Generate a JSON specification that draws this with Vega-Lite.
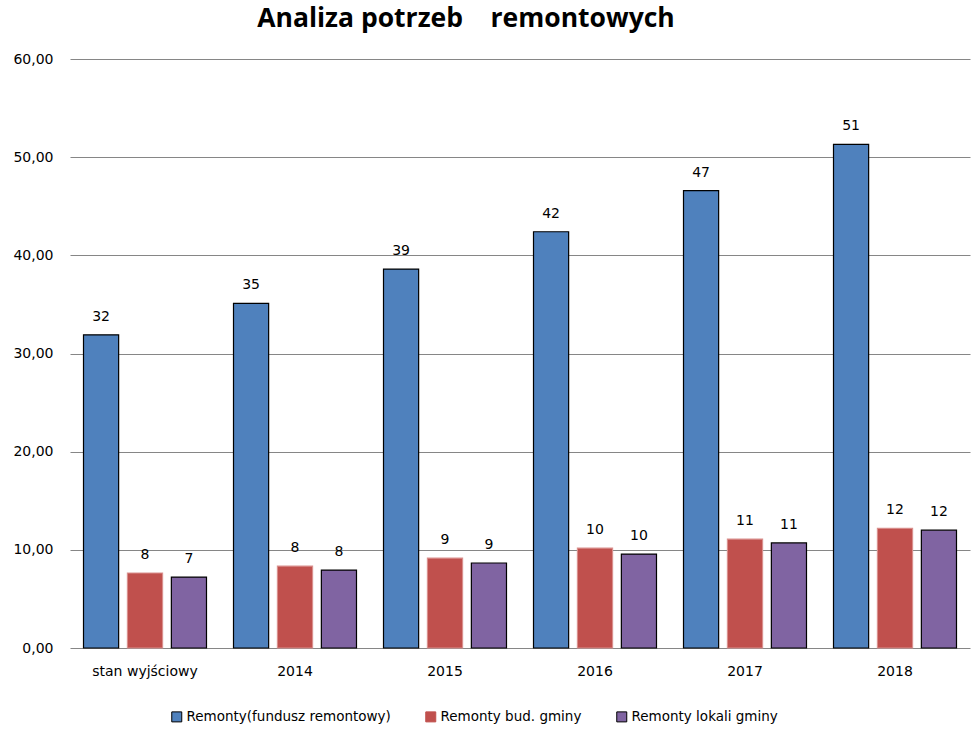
{
  "$schema": "https://vega.github.io/schema/vega-lite/v6.json",
  "width": 900,
  "height": 589,
  "autosize": "none",
  "padding": {"left": 70, "top": 59, "right": 5, "bottom": 90},
  "background": "white",
  "title": {
    "text": "Analiza potrzeb\u00a0\u00a0\u00a0\u00a0remontowych",
    "font": "Open Sans",
    "fontSize": 26.5,
    "fontWeight": "bold",
    "color": "#000000",
    "anchor": "middle",
    "dx": -54,
    "offset": 20
  },
  "config": {
    "view": {"stroke": null},
    "font": "DejaVu Sans"
  },
  "data": {
    "values": [
      {"okres": "stan wyjściowy", "seria": "Remonty(fundusz remontowy)", "wartosc": 31.9},
      {"okres": "stan wyjściowy", "seria": "Remonty bud. gminy", "wartosc": 7.64},
      {"okres": "stan wyjściowy", "seria": "Remonty lokali gminy", "wartosc": 7.23},
      {"okres": "2014", "seria": "Remonty(fundusz remontowy)", "wartosc": 35.1},
      {"okres": "2014", "seria": "Remonty bud. gminy", "wartosc": 8.35},
      {"okres": "2014", "seria": "Remonty lokali gminy", "wartosc": 7.94},
      {"okres": "2015", "seria": "Remonty(fundusz remontowy)", "wartosc": 38.6},
      {"okres": "2015", "seria": "Remonty bud. gminy", "wartosc": 9.16},
      {"okres": "2015", "seria": "Remonty lokali gminy", "wartosc": 8.66},
      {"okres": "2016", "seria": "Remonty(fundusz remontowy)", "wartosc": 42.4},
      {"okres": "2016", "seria": "Remonty bud. gminy", "wartosc": 10.18},
      {"okres": "2016", "seria": "Remonty lokali gminy", "wartosc": 9.57},
      {"okres": "2017", "seria": "Remonty(fundusz remontowy)", "wartosc": 46.6},
      {"okres": "2017", "seria": "Remonty bud. gminy", "wartosc": 11.1},
      {"okres": "2017", "seria": "Remonty lokali gminy", "wartosc": 10.7},
      {"okres": "2018", "seria": "Remonty(fundusz remontowy)", "wartosc": 51.3},
      {"okres": "2018", "seria": "Remonty bud. gminy", "wartosc": 12.2},
      {"okres": "2018", "seria": "Remonty lokali gminy", "wartosc": 12.0}
    ]
  },
  "encoding": {
    "x": {
      "field": "okres",
      "type": "nominal",
      "sort": null,
      "scale": {"paddingInner": 0.18, "paddingOuter": 0.09},
      "axis": {
        "title": null,
        "labelAngle": 0,
        "labelFontSize": 14,
        "labelColor": "#000000",
        "labelPadding": 16,
        "ticks": false,
        "domain": false,
        "grid": false
      }
    },
    "xOffset": {
      "field": "seria",
      "type": "nominal",
      "sort": ["Remonty(fundusz remontowy)", "Remonty bud. gminy", "Remonty lokali gminy"],
      "scale": {"paddingInner": 0.2, "paddingOuter": 0}
    },
    "y": {
      "field": "wartosc",
      "type": "quantitative",
      "scale": {"domain": [0, 60], "nice": false},
      "axis": {
        "title": null,
        "values": [0, 10, 20, 30, 40, 50, 60],
        "labelExpr": "replace(format(datum.value, '.2f'), '.', ',')",
        "labelFontSize": 14,
        "labelColor": "#000000",
        "labelPadding": 17,
        "ticks": false,
        "domain": false,
        "grid": true,
        "gridColor": "#868686",
        "gridWidth": 1.2
      }
    }
  },
  "layer": [
    {
      "mark": {"type": "bar", "strokeWidth": 1.2},
      "encoding": {
        "color": {
          "field": "seria",
          "type": "nominal",
          "sort": ["Remonty(fundusz remontowy)", "Remonty bud. gminy", "Remonty lokali gminy"],
          "scale": {"range": ["#4f81bd", "#c0504d", "#8064a2"]},
          "legend": {
            "title": null,
            "orient": "none",
            "direction": "horizontal",
            "legendX": 100,
            "legendY": 651,
            "symbolType": "square",
            "symbolSize": 100,
            "symbolStrokeWidth": 1,
            "symbolOpacity": 1,
            "labelFontSize": 13.5,
            "labelLimit": 400,
            "labelColor": "#000000",
            "labelOffset": 3,
            "columnPadding": 32,
            "encode": {
              "symbols": {
                "update": {
                  "stroke": {"signal": "datum.value === 'Remonty bud. gminy' ? '#c0504d' : '#000000'"}
                }
              }
            }
          }
        },
        "stroke": {
          "field": "seria",
          "type": "nominal",
          "sort": ["Remonty(fundusz remontowy)", "Remonty bud. gminy", "Remonty lokali gminy"],
          "scale": {"range": ["#000000", "#d98f8d", "#000000"]},
          "legend": null
        }
      }
    },
    {
      "mark": {"type": "text", "dy": -18, "fontSize": 14, "color": "#000000", "baseline": "middle"},
      "encoding": {
        "text": {"field": "wartosc", "type": "quantitative", "format": ".0f"}
      }
    }
  ]
}
